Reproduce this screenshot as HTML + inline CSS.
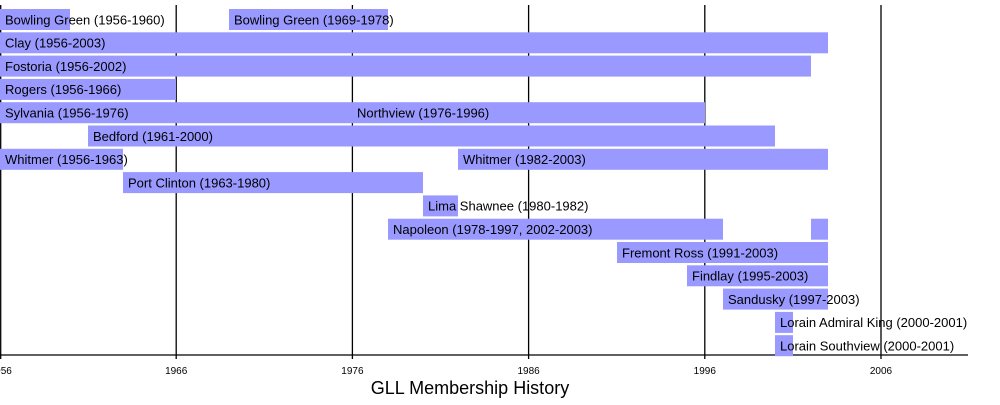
<!DOCTYPE html>
<html><head><style>body{margin:0;background:#fff}svg{display:block}text{font-family:"Liberation Sans",sans-serif}</style></head><body>
<svg width="1000" height="405" xmlns="http://www.w3.org/2000/svg">
<g stroke="#000" stroke-width="1.3">
<line x1="0.7" y1="5" x2="0.7" y2="359"/><line x1="176.2" y1="5" x2="176.2" y2="359"/><line x1="352.4" y1="5" x2="352.4" y2="359"/><line x1="528.6" y1="5" x2="528.6" y2="359"/><line x1="704.8" y1="5" x2="704.8" y2="359"/><line x1="881" y1="5" x2="881" y2="359"/>
<line x1="0" y1="355" x2="968" y2="355"/>
</g>
<g fill="#9999ff">
<rect x="0" y="9" width="70" height="21"/><rect x="229" y="9" width="159" height="21"/>
<rect x="0" y="32.3" width="828" height="21"/>
<rect x="0" y="55.6" width="811" height="21"/>
<rect x="0" y="78.9" width="176" height="21"/>
<rect x="0" y="102.2" width="705" height="21"/>
<rect x="88" y="125.5" width="687" height="21"/>
<rect x="0" y="148.8" width="123" height="21"/><rect x="458" y="148.8" width="370" height="21"/>
<rect x="123" y="172.1" width="300" height="21"/>
<rect x="423" y="195.4" width="35" height="21"/>
<rect x="388" y="218.7" width="335" height="21"/><rect x="811" y="218.7" width="17" height="21"/>
<rect x="617" y="242" width="211" height="21"/>
<rect x="687" y="265.3" width="141" height="21"/>
<rect x="723" y="288.6" width="105" height="21"/>
<rect x="775" y="311.9" width="18" height="21"/>
<rect x="775" y="335.2" width="18" height="21"/>
</g>
<g font-size="13" fill="#000">
<text x="5" y="24.3">Bowling Green (1956-1960)</text><text x="234" y="24.3">Bowling Green (1969-1978)</text>
<text x="5" y="47.6">Clay (1956-2003)</text>
<text x="5" y="70.9">Fostoria (1956-2002)</text>
<text x="5" y="94.2">Rogers (1956-1966)</text>
<text x="5" y="117.5">Sylvania (1956-1976)</text><text x="357" y="117.5">Northview (1976-1996)</text>
<text x="93" y="140.8">Bedford (1961-2000)</text>
<text x="5" y="164.1">Whitmer (1956-1963)</text><text x="463" y="164.1">Whitmer (1982-2003)</text>
<text x="128" y="187.4">Port Clinton (1963-1980)</text>
<text x="428" y="210.7">Lima Shawnee (1980-1982)</text>
<text x="393" y="234">Napoleon (1978-1997, 2002-2003)</text>
<text x="622" y="257.3">Fremont Ross (1991-2003)</text>
<text x="692" y="280.6">Findlay (1995-2003)</text>
<text x="728" y="303.9">Sandusky (1997-2003)</text>
<text x="780" y="327.2">Lorain Admiral King (2000-2001)</text>
<text x="780" y="350.5">Lorain Southview (2000-2001)</text>
</g>
<g font-size="10" text-anchor="middle">
<text x="0.7" y="374">1956</text><text x="176.2" y="374">1966</text><text x="352.4" y="374">1976</text><text x="528.6" y="374">1986</text><text x="704.8" y="374">1996</text><text x="881" y="374">2006</text>
</g>
<text x="470" y="394" font-size="18" text-anchor="middle">GLL Membership History</text>
</svg>
</body></html>
